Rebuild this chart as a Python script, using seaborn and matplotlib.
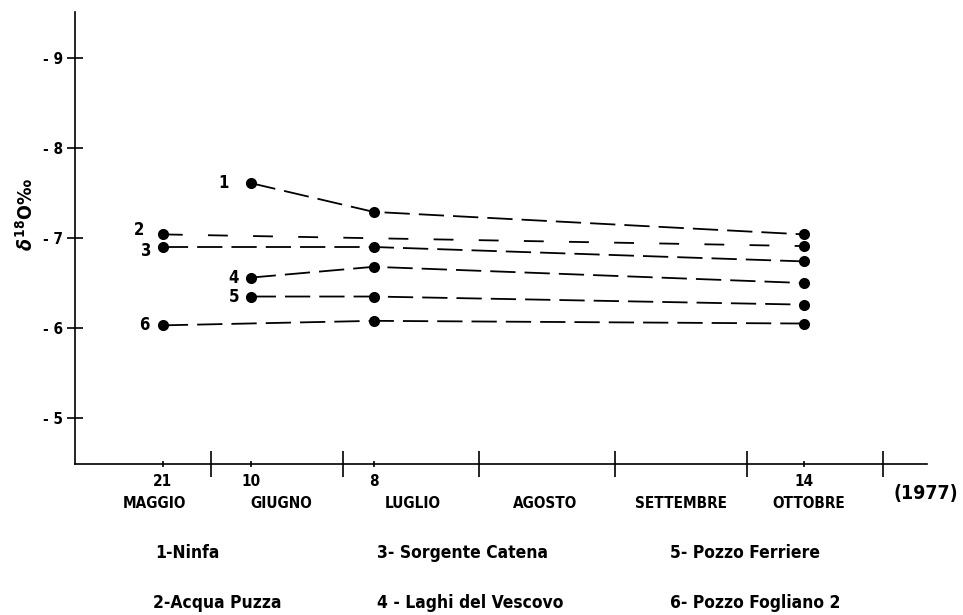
import matplotlib
matplotlib.use("Agg")
import matplotlib.dates as mdates
import matplotlib.pyplot as plt
import pandas as pd
import seaborn as sns

# sampling dates (1977) and delta-18O values per site
sites = ["1", "2", "3", "4", "5", "6"]
site_names = [
    "1-Ninfa",
    "2-Acqua Puzza",
    "3- Sorgente Catena",
    "4 - Laghi del Vescovo",
    "5- Pozzo Ferriere",
    "6- Pozzo Fogliano 2",
]
dates_1 = ["1977-06-10", "1977-07-08", "1977-10-14"]
vals_1 = [-7.61, -7.29, -7.04]
dates_2 = ["1977-05-21", "1977-10-14"]
vals_2 = [-7.04, -6.91]
dates_3 = ["1977-05-21", "1977-07-08", "1977-10-14"]
vals_3 = [-6.90, -6.90, -6.74]
dates_4 = ["1977-06-10", "1977-07-08", "1977-10-14"]
vals_4 = [-6.56, -6.68, -6.50]
dates_5 = ["1977-06-10", "1977-07-08", "1977-10-14"]
vals_5 = [-6.35, -6.35, -6.26]
dates_6 = ["1977-05-21", "1977-07-08", "1977-10-14"]
vals_6 = [-6.03, -6.08, -6.05]

sample_dates = ["1977-05-21", "1977-06-10", "1977-07-08", "1977-10-14"]
sample_labels = ["21", "10", "8", "14"]
month_starts = ["1977-06-01", "1977-07-01", "1977-08-01", "1977-09-01",
                "1977-10-01", "1977-11-01"]
month_names = ["MAGGIO", "GIUGNO", "LUGLIO", "AGOSTO", "SETTEMBRE", "OTTOBRE"]
month_label_at = ["1977-05-19", "1977-06-17", "1977-07-17", "1977-08-16",
                  "1977-09-16", "1977-10-15"]
yticks = [-5, -6, -7, -8, -9]
ytick_labels = ["- 5", "- 6", "- 7", "- 8", "- 9"]

rows = []
for s, d, v in zip(sites,
                   [dates_1, dates_2, dates_3, dates_4, dates_5, dates_6],
                   [vals_1, vals_2, vals_3, vals_4, vals_5, vals_6]):
    for di, vi in zip(d, v):
        rows.append({"site": s, "date": pd.Timestamp(di), "d18O": vi})
df = pd.DataFrame(rows)

sns.set_style("ticks")
plt.rcParams["font.family"] = ["DejaVu Sans"]
plt.rcParams["font.stretch"] = "condensed"
plt.rcParams["font.weight"] = "bold"
plt.rcParams["text.color"] = "black"
plt.rcParams["xtick.color"] = "black"
plt.rcParams["ytick.color"] = "black"

fig = plt.figure(figsize=(9.63, 6.15), dpi=100)
W, H = 963, 615
ax = fig.add_axes([75 / W, 1 - 464 / H, (927 - 75) / W, (464 - 12) / H])

dash_main = (14, 5)
dash_sparse = (11, 14)
sns.lineplot(
    data=df, x="date", y="d18O", hue="site", style="site",
    palette={s: "black" for s in sites},
    dashes={s: (dash_sparse if s == "2" else dash_main) for s in sites},
    markers={s: "o" for s in sites},
    markersize=8, markeredgewidth=0, linewidth=1.3,
    estimator=None, sort=False, legend=False, ax=ax,
)

ax.set_xlim(mdates.date2num(pd.Timestamp("1977-05-01")),
            mdates.date2num(pd.Timestamp("1977-11-11")))
ax.set_ylim(-4.49, -9.51)

for side in ["top", "right"]:
    ax.spines[side].set_visible(False)
for side in ["left", "bottom"]:
    ax.spines[side].set_color("black")
    ax.spines[side].set_linewidth(1.2)

ax.set_yticks(yticks)
ax.set_yticklabels(ytick_labels, fontsize=11, fontweight="bold")
ax.tick_params(axis="y", left=True, direction="inout", length=11, width=1.2, pad=3)

ax.set_xticks([mdates.date2num(pd.Timestamp(d)) for d in month_starts])
ax.set_xticklabels([""] * len(month_starts))
ax.set_xticks([mdates.date2num(pd.Timestamp(d)) for d in sample_dates], minor=True)
ax.set_xticklabels(sample_labels, minor=True, fontsize=11, fontweight="bold")
ax.tick_params(axis="x", which="major", bottom=True, direction="inout",
               length=19, width=1.2)
ax.tick_params(axis="x", which="minor", bottom=True, direction="inout",
               length=5, width=1.2, pad=5)
ax.set_xlabel("")
ax.set_ylabel("")

trans = ax.get_xaxis_transform()
for name, d in zip(month_names, month_label_at):
    ax.text(mdates.date2num(pd.Timestamp(d)), -39 / 452, name, transform=trans,
            ha="center", va="center", fontsize=11, fontweight="bold")

fig.text(926 / W, 1 - 494 / H, "(1977)", ha="center", va="center",
         fontsize=14, fontweight="bold")

fig.text(26 / W, 1 - 215 / H, r"$\delta^{18}$O‰", rotation=90,
         ha="center", va="center", fontsize=14, fontweight="bold")

# series numbers next to the first point of each line
offsets = {"1": (-27, 0), "2": (-24, 4), "3": (-17, -4),
           "4": (-17, 0), "5": (-17, 0), "6": (-19, 0)}
for s in sites:
    first = df[df["site"] == s].iloc[0]
    ax.annotate(s, (mdates.date2num(first["date"]), first["d18O"]),
                xytext=offsets[s], textcoords="offset pixels",
                ha="center", va="center", fontsize=12, fontweight="bold")

legend_pos = [(155, 553), (153, 603), (377, 553), (377, 603), (670, 553), (670, 603)]
for name, (px, py) in zip(site_names, legend_pos):
    fig.text(px / W, 1 - py / H, name, ha="left", va="center",
             fontsize=12.5, fontweight="bold")

fig.savefig("out.png", dpi=100, facecolor="white")
